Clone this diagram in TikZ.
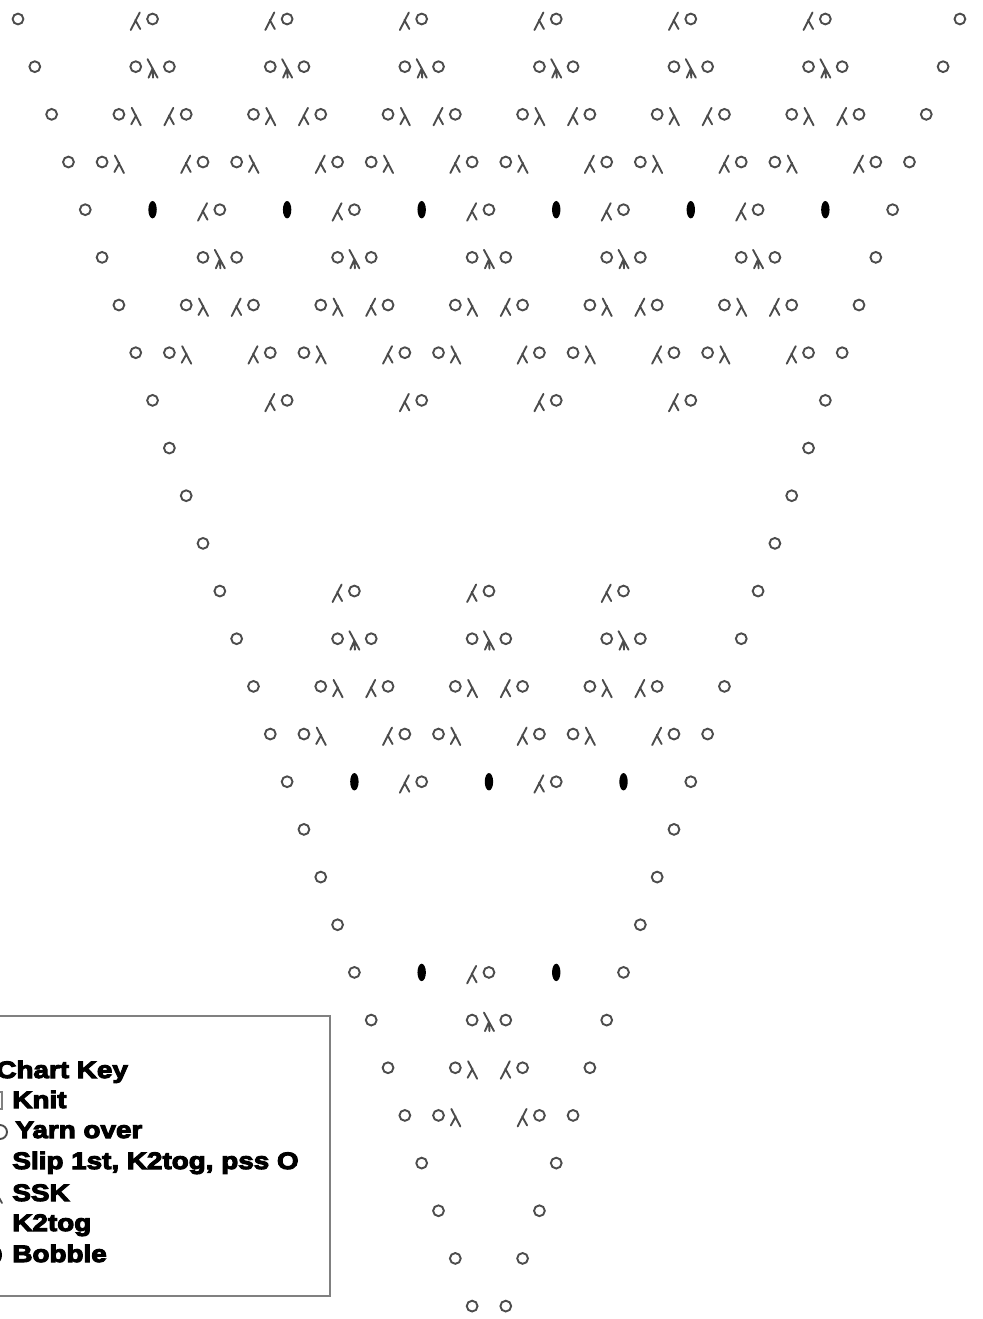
\documentclass[tikz,border=0pt]{standalone}
\usepackage{fontspec}
\newfontfamily\keyfont[FakeStretch=1.17,FakeBold=4.5]{Liberation Sans Bold}
\definecolor{symc}{gray}{0.3}
\definecolor{boxc}{gray}{0.5}
\tikzset{
  sym/.style={draw=symc, line width=0.95pt, line cap=round},
  yo/.pic={\draw[sym] (0,0) circle (5.4);},
  ktog/.pic={\draw[sym] (4,-6.5) -- (-5,11) (-0.5,1) -- (4.5,10);},
  ssk/.pic={\draw[sym] (-4,-6.5) -- (5,11) (0.5,1) -- (-4.5,10);},
  skp/.pic={\draw[sym] (-5,-7.5) -- (5,11) (0,2) -- (-4,11) (0,2) -- (0.5,11);},
  bob/.pic={\fill[black] (0,0) ellipse (4.2 and 8.7);},
  key/.style={font=\keyfont\fontsize{11.9}{13}\selectfont, anchor=base west, inner sep=0pt, text=black}
}
\newcommand\st[3]{\pic at ({18+16.82*(#2)},{19+47.67*(#1-1)}) {#3};}
\begin{document}
\begin{tikzpicture}[x=0.5pt,y=-0.5pt]
\useasboundingbox (0,0) rectangle (982,1319);
\clip (0,0) rectangle (982,1319);
% ---- row 1
\st{1}{0}{yo}\st{1}{56}{yo}
\foreach \c in {8,16,...,48}{\st{1}{\c-1}{ktog}\st{1}{\c}{yo}}
% ---- row 2
\st{2}{1}{yo}\st{2}{55}{yo}
\foreach \c in {8,16,...,48}{\st{2}{\c-1}{yo}\st{2}{\c}{skp}\st{2}{\c+1}{yo}}
% ---- row 3
\st{3}{2}{yo}\st{3}{54}{yo}
\foreach \c in {8,16,...,48}{\st{3}{\c-2}{yo}\st{3}{\c-1}{ssk}\st{3}{\c+1}{ktog}\st{3}{\c+2}{yo}}
% ---- row 4
\st{4}{3}{yo}\st{4}{53}{yo}
\foreach \c in {8,16,...,48}{\st{4}{\c-3}{yo}\st{4}{\c-2}{ssk}\st{4}{\c+2}{ktog}\st{4}{\c+3}{yo}}
% ---- row 5
\st{5}{4}{yo}\st{5}{52}{yo}
\foreach \c in {8,16,...,48}{\st{5}{\c}{bob}}
\foreach \c in {8,16,...,40}{\st{5}{\c+3}{ktog}\st{5}{\c+4}{yo}}
% ---- row 6
\st{6}{5}{yo}\st{6}{51}{yo}
\foreach \c in {12,20,...,44}{\st{6}{\c-1}{yo}\st{6}{\c}{skp}\st{6}{\c+1}{yo}}
% ---- row 7
\st{7}{6}{yo}\st{7}{50}{yo}
\foreach \c in {12,20,...,44}{\st{7}{\c-2}{yo}\st{7}{\c-1}{ssk}\st{7}{\c+1}{ktog}\st{7}{\c+2}{yo}}
% ---- row 8
\st{8}{7}{yo}\st{8}{49}{yo}
\foreach \c in {12,20,...,44}{\st{8}{\c-3}{yo}\st{8}{\c-2}{ssk}\st{8}{\c+2}{ktog}\st{8}{\c+3}{yo}}
% ---- row 9
\st{9}{8}{yo}\st{9}{48}{yo}
\foreach \c in {16,24,...,40}{\st{9}{\c-1}{ktog}\st{9}{\c}{yo}}
% ---- rows 10-12
\st{10}{9}{yo}\st{10}{47}{yo}
\st{11}{10}{yo}\st{11}{46}{yo}
\st{12}{11}{yo}\st{12}{45}{yo}
% ---- row 13
\st{13}{12}{yo}\st{13}{44}{yo}
\foreach \c in {20,28,36}{\st{13}{\c-1}{ktog}\st{13}{\c}{yo}}
% ---- row 14
\st{14}{13}{yo}\st{14}{43}{yo}
\foreach \c in {20,28,36}{\st{14}{\c-1}{yo}\st{14}{\c}{skp}\st{14}{\c+1}{yo}}
% ---- row 15
\st{15}{14}{yo}\st{15}{42}{yo}
\foreach \c in {20,28,36}{\st{15}{\c-2}{yo}\st{15}{\c-1}{ssk}\st{15}{\c+1}{ktog}\st{15}{\c+2}{yo}}
% ---- row 16
\st{16}{15}{yo}\st{16}{41}{yo}
\foreach \c in {20,28,36}{\st{16}{\c-3}{yo}\st{16}{\c-2}{ssk}\st{16}{\c+2}{ktog}\st{16}{\c+3}{yo}}
% ---- row 17
\st{17}{16}{yo}\st{17}{40}{yo}
\foreach \c in {20,28,36}{\st{17}{\c}{bob}}
\foreach \c in {20,28}{\st{17}{\c+3}{ktog}\st{17}{\c+4}{yo}}
% ---- rows 18-20
\st{18}{17}{yo}\st{18}{39}{yo}
\st{19}{18}{yo}\st{19}{38}{yo}
\st{20}{19}{yo}\st{20}{37}{yo}
% ---- row 21
\st{21}{20}{yo}\st{21}{36}{yo}
\st{21}{24}{bob}\st{21}{32}{bob}
\st{21}{27}{ktog}\st{21}{28}{yo}
% ---- row 22
\st{22}{21}{yo}\st{22}{35}{yo}
\st{22}{27}{yo}\st{22}{28}{skp}\st{22}{29}{yo}
% ---- row 23
\st{23}{22}{yo}\st{23}{34}{yo}
\st{23}{26}{yo}\st{23}{27}{ssk}\st{23}{29}{ktog}\st{23}{30}{yo}
% ---- row 24
\st{24}{23}{yo}\st{24}{33}{yo}
\st{24}{25}{yo}\st{24}{26}{ssk}\st{24}{30}{ktog}\st{24}{31}{yo}
% ---- rows 25-28
\st{25}{24}{yo}\st{25}{32}{yo}
\st{26}{25}{yo}\st{26}{31}{yo}
\st{27}{26}{yo}\st{27}{30}{yo}
\st{28}{27}{yo}\st{28}{29}{yo}
% ---- chart key
\draw[boxc, line width=0.8pt] (-10,1016) rectangle (330,1296);
\draw[boxc, line width=0.9pt] (-14,1092) rectangle (2,1109);
\draw[sym] (0,1132) circle (7);
\draw[sym, line width=0.9pt] (-12,1178) -- (2,1203);
\fill[black] (-3,1255) ellipse (5 and 8);
\node[key] (title) at (-4,1078) {Chart Key};
\node[key] (knit) at (12,1108) {Knit};
\node[key] (yarn) at (15,1138) {Yarn over};
\node[key] (slip) at (12,1169) {Slip 1st, K2tog, pss O};
\node[key] (ssk) at (12,1201) {SSK};
\node[key] (k2tog) at (12,1231) {K2tog};
\node[key] (bobble) at (12,1262) {Bobble};
\end{tikzpicture}
\end{document}
